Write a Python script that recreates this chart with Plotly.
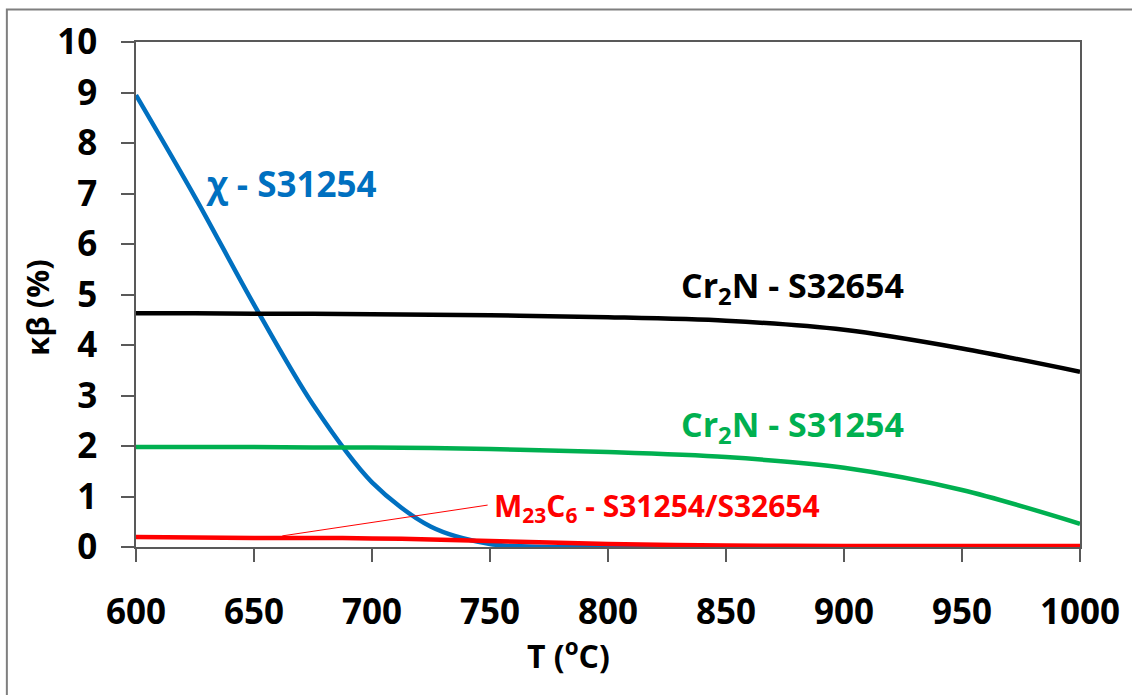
import plotly.graph_objects as go

# Temperature grid (°C)
temps = [600, 625, 650, 675, 700, 725, 750, 775, 800, 850, 900, 950, 1000]

# Phase fraction kappa-beta (%) for each precipitate / alloy
chi_s31254 = [8.95, 6.93, 4.80, 2.82, 1.28, 0.40, 0.06, 0.0, 0.0, 0.0, 0.0, 0.0, 0.0]
cr2n_s32654 = [4.63, 4.63, 4.62, 4.62, 4.61, 4.60, 4.59, 4.57, 4.55, 4.48, 4.30, 3.93, 3.47]
cr2n_s31254 = [1.98, 1.98, 1.98, 1.97, 1.97, 1.96, 1.94, 1.91, 1.88, 1.78, 1.57, 1.13, 0.46]
m23c6_both = [0.20, 0.19, 0.18, 0.18, 0.17, 0.15, 0.12, 0.09, 0.06, 0.03, 0.02, 0.02, 0.02]

x_ticks = [600, 650, 700, 750, 800, 850, 900, 950, 1000]
y_ticks = list(range(0, 11))

FONT = "Open Sans"
BLUE = "#0070C0"
GREEN = "#00B050"
RED = "#FF0000"
AXIS = "#595959"

fig = go.Figure()

series = [
    (chi_s31254, BLUE),
    (cr2n_s32654, "#000000"),
    (cr2n_s31254, GREEN),
    (m23c6_both, RED),
]
for values, color in series:
    fig.add_trace(go.Scatter(
        x=temps, y=values, mode="lines",
        line=dict(color=color, width=4.5, shape="spline", smoothing=0.9),
        showlegend=False, hoverinfo="skip",
    ))

axis_common = dict(
    showline=True, linecolor=AXIS, linewidth=1.5, mirror=True,
    ticks="outside", ticklen=13, tickcolor=AXIS, tickwidth=1.5,
    showgrid=False, zeroline=False,
    tickfont=dict(family=FONT, size=35, color="#000000", weight="bold"),
)

fig.update_xaxes(range=[600, 1000], tickvals=x_ticks, ticklabelstandoff=20, **axis_common)
fig.update_yaxes(range=[0, 10], tickvals=y_ticks, ticklabelstandoff=17, **axis_common)

# Series labels
label_font = dict(family=FONT, weight="bold")
fig.add_annotation(x=629, y=7.2, text="χ - S31254", showarrow=False,
                   xanchor="left", yanchor="middle",
                   font=dict(size=35, color=BLUE, **label_font))
fig.add_annotation(x=830, y=5.15, text="Cr<sub>2</sub>N - S32654", showarrow=False,
                   xanchor="left", yanchor="middle",
                   font=dict(size=34, color="#000000", **label_font))
fig.add_annotation(x=830, y=2.4, text="Cr<sub>2</sub>N - S31254", showarrow=False,
                   xanchor="left", yanchor="middle",
                   font=dict(size=34, color=GREEN, **label_font))
fig.add_annotation(x=751, y=0.8, text="M<sub>23</sub>C<sub>6</sub> - S31254/S32654",
                   showarrow=False, xanchor="left", yanchor="middle",
                   font=dict(size=30, color=RED, **label_font))

# Leader line from the M23C6 label to its curve
fig.add_shape(type="line", xref="x", yref="y", x0=662, y0=0.22, x1=749, y1=0.83,
              line=dict(color=RED, width=1))

# Axis titles
fig.add_annotation(xref="paper", yref="paper", x=0.458, y=-0.212,
                   text="T (<sup>o</sup>C)", showarrow=False,
                   xanchor="center", yanchor="middle",
                   font=dict(family=FONT, size=32, color="#000000", weight="bold"))
fig.add_annotation(xref="paper", yref="paper", x=-0.105, y=0.475,
                   text="κβ (%)", showarrow=False, textangle=-90,
                   xanchor="center", yanchor="middle",
                   font=dict(family=FONT, size=31, color="#000000", weight="bold"))

# Outer frame of the figure
fig.add_shape(type="rect", xref="paper", yref="paper",
              x0=-0.1368, y0=-0.4, x1=1.2, y1=1.0644,
              line=dict(color="#7F7F7F", width=2), layer="below")

fig.update_layout(
    width=1132, height=695,
    margin=dict(l=136, r=46, t=42, b=148),
    paper_bgcolor="white", plot_bgcolor="white",
    font=dict(family=FONT),
)

fig.write_html("out.html")
